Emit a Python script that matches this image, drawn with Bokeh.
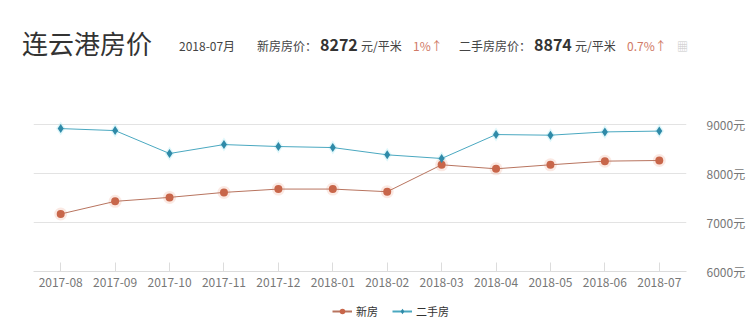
from bokeh.plotting import figure
from bokeh.layouts import column
from bokeh.models import Div, ColumnDataSource, FixedTicker, PrintfTickFormatter, Legend, LegendItem
from bokeh.embed import file_html
from bokeh.resources import INLINE

months = ["2017-08", "2017-09", "2017-10", "2017-11", "2017-12", "2018-01",
          "2018-02", "2018-03", "2018-04", "2018-05", "2018-06", "2018-07"]
new_price = [7177, 7436, 7517, 7619, 7687, 7687, 7633, 8184, 8102, 8184, 8259, 8272]
second_price = [8925, 8884, 8415, 8598, 8558, 8537, 8388, 8313, 8803, 8790, 8857, 8874]
y_ticks = [6000, 7000, 8000, 9000]
series_names = ["新房", "二手房"]

city = "连云港房价"
period = "2018-07月"
new_label, new_now, new_chg = "新房房价：", "8272", "1%↑"
sec_label, sec_now, sec_chg = "二手房房价：", "8874", "0.7%↑"
unit = "元/平米"

NEW_LINE, NEW_MARK, NEW_GLOW = "#b8745f", "#c8664a", "#f0a890"
SEC_LINE, SEC_MARK, SEC_GLOW = "#4aa8c0", "#2f8aa8", "#7fe0f0"

FONT = "'Noto Sans CJK SC', 'Noto Sans', sans-serif"

def span(x, y, text, size, color="#333", weight="normal"):
    return (f'<span style="position:absolute;left:{x}px;top:{y}px;font-size:{size}px;'
            f'color:{color};font-weight:{weight};white-space:nowrap;line-height:1;">{text}</span>')

html = '<div style="position:relative;width:748px;height:100px;font-family:' + FONT + ';">'
html += span(22, 30, city, 26, "#333")
html += span(179, 40, period, 12, "#444")
html += span(257, 40, new_label, 12, "#444")
html += span(320, 36, new_now, 16, "#333", "bold")
html += span(361, 40, unit, 12, "#444")
html += span(413, 40, new_chg, 12, "#d07a66")
html += span(459, 40, sec_label, 12, "#444")
html += span(534, 36, sec_now, 16, "#333", "bold")
html += span(575, 40, unit, 12, "#444")
html += span(627, 40, sec_chg, 12, "#d07a66")
html += span(677, 41, "▦", 11, "#c8c8c8")
html += '</div>'

header = Div(text=html, width=748, height=100, margin=0)

src = ColumnDataSource(dict(m=months, n=new_price, s=second_price))

p = figure(x_range=months, y_range=(6000, 9500), width=748, height=198,
           output_backend="svg", toolbar_location=None, y_axis_location="right",
           min_border_left=33, min_border_right=53, min_border_top=0, min_border_bottom=27,
           margin=0)
p.outline_line_color = None
p.background_fill_color = "white"
p.xgrid.grid_line_color = None
p.ygrid.grid_line_color = "#e3e3e3"
p.ygrid.ticker = FixedTicker(ticks=y_ticks)

p.yaxis.ticker = FixedTicker(ticks=y_ticks)
p.yaxis.formatter = PrintfTickFormatter(format="%d元")
p.yaxis.axis_line_color = None
p.yaxis.major_tick_line_color = None
p.yaxis.minor_tick_line_color = None
p.yaxis.major_label_standoff = 14
p.yaxis.major_label_text_color = "#777"
p.yaxis.major_label_text_font = "Noto Sans CJK SC"
p.yaxis.major_label_text_font_size = "12px"

p.xaxis.axis_line_color = "#dcdcdc"
p.xaxis.major_tick_line_color = "#dcdcdc"
p.xaxis.major_tick_in = 9
p.xaxis.major_tick_out = 0
p.xaxis.major_label_standoff = 6
p.xaxis.major_label_text_color = "#777"
p.xaxis.major_label_text_font = "Noto Sans CJK SC"
p.xaxis.major_label_text_font_size = "12px"

# glow
p.scatter("m", "s", source=src, marker="diamond", size=14, color=SEC_GLOW, alpha=0.25, line_color=None)
p.scatter("m", "n", source=src, marker="circle", size=13, color=NEW_GLOW, alpha=0.25, line_color=None)

p.line("m", "n", source=src, color=NEW_LINE, line_width=1)
p.scatter("m", "n", source=src, marker="circle", size=8, color=NEW_MARK, line_color=None)
p.line("m", "s", source=src, color=SEC_LINE, line_width=1)
p.scatter("m", "s", source=src, marker="diamond", size=9, color=SEC_MARK, line_color=None)

# legend strip (its renderers use the same data, which lies outside this strip's range)
lg = figure(width=748, height=21, output_backend="svg", toolbar_location=None,
            min_border_left=0, min_border_right=0, min_border_top=0, min_border_bottom=0,
            margin=0, x_range=months, y_range=(0, 1))
lg.outline_line_color = None
lg.axis.visible = False
lg.grid.visible = False
a1 = lg.line("m", "n", source=src, color=NEW_LINE, line_width=2)
b1 = lg.scatter("m", "n", source=src, marker="circle", size=8, color=NEW_MARK, line_color=None)
a2 = lg.line("m", "s", source=src, color=SEC_LINE, line_width=2)
b2 = lg.scatter("m", "s", source=src, marker="diamond", size=9, color=SEC_MARK, line_color=None)
legend = Legend(items=[LegendItem(label=series_names[0], renderers=[a1, b1]),
                       LegendItem(label=series_names[1], renderers=[a2, b2])],
                orientation="horizontal", location=(299, 0),
                label_text_font="Noto Sans CJK SC", label_text_font_size="11px",
                label_text_color="#333", border_line_color=None, background_fill_alpha=0,
                glyph_width=20, glyph_height=14, label_height=14, label_standoff=4,
                spacing=14, padding=2, margin=0)
lg.add_layout(legend)

layout = column(header, p, lg, spacing=0)
open("out.html", "w").write(file_html(layout, INLINE))
